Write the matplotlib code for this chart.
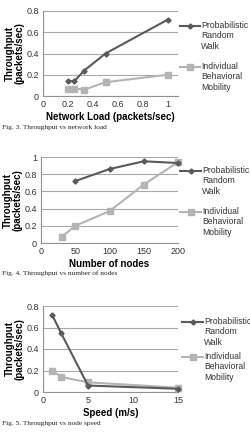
"""Throughput figures (Fig. 3-5)."""

import matplotlib

matplotlib.use("Agg")
import matplotlib.pyplot as plt
from matplotlib.lines import Line2D

W, H = 250, 442

# Fig. 3: throughput vs network load
load_x = [0.2, 0.25, 0.33, 0.5, 1.0]
load_prw = [0.14, 0.14, 0.24, 0.40, 0.72]
load_ibm = [0.07, 0.07, 0.06, 0.13, 0.20]

# Fig. 4: throughput vs number of nodes
nodes_prw_x = [50, 100, 150, 200]
nodes_prw = [0.72, 0.86, 0.95, 0.93]
nodes_ibm_x = [30, 50, 100, 150, 200]
nodes_ibm = [0.07, 0.20, 0.37, 0.68, 0.94]

# Fig. 5: throughput vs node speed
speed_x = [1, 2, 5, 15]
speed_prw = [0.72, 0.55, 0.06, 0.03]
speed_ibm = [0.20, 0.14, 0.09, 0.04]

PRW_LABEL = "Probabilistic\nRandom\nWalk"
IBM_LABEL = "Individual\nBehavioral\nMobility"
PRW_COLOR = "#5a5a5a"
IBM_COLOR = "#b4b4b4"
GRID_COLOR = "#a8a8a8"

plt.rcParams["font.family"] = ["Liberation Sans", "DejaVu Sans"]

fig = plt.figure(figsize=(W / 100, H / 100), dpi=100)


def fx(x):
    return x / W


def fy(y):
    return 1 - y / H


def make_axes(left, top, right, bottom):
    return fig.add_axes([fx(left), fy(bottom), fx(right - left), (bottom - top) / H])


def style(ax, xlim, xticks, ylim, yticks, xlabel):
    ax.set_xlim(*xlim)
    ax.set_ylim(*ylim)
    ax.set_xticks(xticks)
    ax.set_yticks(yticks)
    ax.set_xticklabels([f"{t:g}" for t in xticks])
    ax.set_yticklabels([f"{t:g}" for t in yticks])
    ax.yaxis.grid(True, color=GRID_COLOR, linewidth=0.8)
    ax.set_axisbelow(True)
    for side in ("top", "right"):
        ax.spines[side].set_visible(False)
    for side in ("left", "bottom"):
        ax.spines[side].set_color("#909090")
        ax.spines[side].set_linewidth(0.8)
    ax.tick_params(length=0, labelsize=6.5, pad=3, colors="#333333")
    ax.set_xlabel(xlabel, fontsize=7, fontweight="bold", labelpad=2)
    ax.set_ylabel("Throughput\n(packets/sec)", fontsize=7, fontweight="bold",
                  labelpad=1, linespacing=0.95)


def plot_series(ax, xp, yp, xi, yi):
    ax.plot(xi, yi, color=IBM_COLOR, linewidth=1.5, marker="s", markersize=4.2,
            clip_on=False, zorder=3)
    ax.plot(xp, yp, color=PRW_COLOR, linewidth=1.5, marker="D", markersize=2.6,
            clip_on=False, zorder=4)


def legend_entry(x0, x1, y, color, marker, msize, label):
    fig.add_artist(Line2D([fx(x0), fx(x1)], [fy(y), fy(y)], color=color,
                          linewidth=1.5, transform=fig.transFigure))
    fig.add_artist(Line2D([fx((x0 + x1) / 2)], [fy(y)], color=color, marker=marker,
                          markersize=msize, transform=fig.transFigure))
    fig.text(fx(x1 + 1), fy(y - 5), label, fontsize=6.2, va="top", ha="left",
             linespacing=1.2, color="#333333")


def caption(y, text):
    fig.text(fx(2), fy(y), text, fontsize=5.3, family="Liberation Serif",
             va="center", ha="left", color="#222222")


# Fig. 3
ax1 = make_axes(43, 11, 178, 96)
plot_series(ax1, load_x, load_prw, load_x, load_ibm)
style(ax1, (0, 1.08), [0, 0.2, 0.4, 0.6, 0.8, 1], (0, 0.8), [0, 0.2, 0.4, 0.6, 0.8],
      "Network Load (packets/sec)")
legend_entry(180, 200, 26, PRW_COLOR, "D", 2.6, PRW_LABEL)
legend_entry(180, 200, 67, IBM_COLOR, "s", 4.2, IBM_LABEL)
caption(127, "Fig. 3. Throughput vs network load")

# Fig. 4
ax2 = make_axes(41, 157, 178, 243)
plot_series(ax2, nodes_prw_x, nodes_prw, nodes_ibm_x, nodes_ibm)
style(ax2, (0, 200), [0, 50, 100, 150, 200], (0, 1), [0, 0.2, 0.4, 0.6, 0.8, 1],
      "Number of nodes")
legend_entry(180, 201, 171, PRW_COLOR, "D", 2.6, PRW_LABEL)
legend_entry(180, 201, 212, IBM_COLOR, "s", 4.2, IBM_LABEL)
caption(273, "Fig. 4. Throughput vs number of nodes")

# Fig. 5
ax3 = make_axes(43, 306, 178, 392)
plot_series(ax3, speed_x, speed_prw, speed_x, speed_ibm)
style(ax3, (0, 15), [0, 5, 10, 15], (0, 0.8), [0, 0.2, 0.4, 0.6, 0.8], "Speed (m/s)")
legend_entry(182, 203, 322, PRW_COLOR, "D", 2.6, PRW_LABEL)
legend_entry(182, 203, 357, IBM_COLOR, "s", 4.2, IBM_LABEL)
caption(424, "Fig. 5. Throughput vs node speed")

fig.savefig("out.png", dpi=100)
